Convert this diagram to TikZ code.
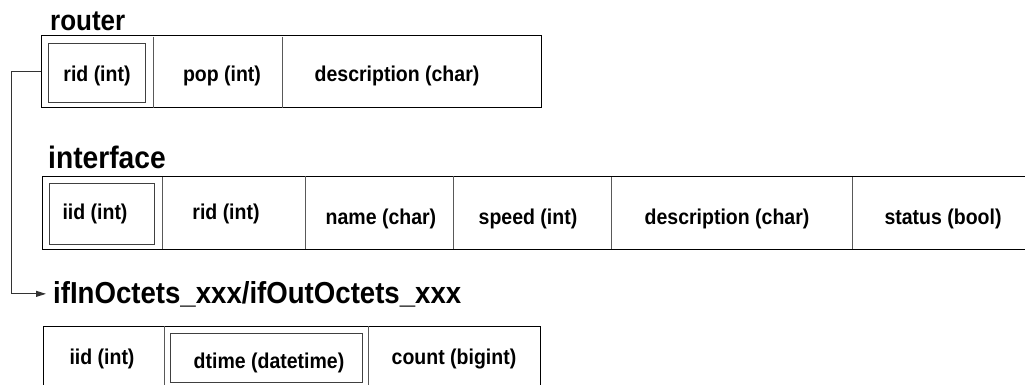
\documentclass[tikz,border=0pt]{standalone}
\usepackage{fontspec}
\usepackage{graphicx}
\setmainfont{Liberation Sans}
\usetikzlibrary{arrows.meta}
\newcommand{\tallt}[1]{\scalebox{1}[1.1]{#1}}
\tikzset{
  tbl/.style={draw=black, line width=1pt, rectangle, inner sep=0pt},
  keybox/.style={draw=black!75, line width=1pt, rectangle, inner sep=0pt},
  divider/.style={draw=black!65, line width=1pt},
  ttl/.style={anchor=base west, inner sep=0pt, font=\bfseries},
  fld/.style={anchor=base, inner sep=0pt, font=\fontsize{19.5}{20}\selectfont\bfseries},
  conn/.style={draw=black!80, line width=1pt, -{Triangle[length=10pt,width=6pt]}}
}
\begin{document}
\begin{tikzpicture}[x=1pt,y=-1pt]
\useasboundingbox (0,0) rectangle (1025,385);
% router
\node[ttl] (rtitle) at (50,31) {\fontsize{26}{27}\selectfont\tallt{router}};
\node[tbl, minimum width=500pt, minimum height=72pt] (rtab) at (291,72) {};
\node[keybox, minimum width=97pt, minimum height=59pt] (rkey) at (96.5,73.5) {};
\draw[divider] (153,37) -- (153,108);
\draw[divider] (282,37) -- (282,108);
\node[fld] (r1) at (97,82) {\tallt{rid (int)}};
\node[fld] (r2) at (222,82) {\tallt{pop (int)}};
\node[fld] (r3) at (397,82) {\tallt{description (char)}};
% interface
\node[ttl] (ititle) at (48,168) {\fontsize{28.2}{29}\selectfont\tallt{interface}};
\node[tbl, minimum width=995pt, minimum height=73pt] (itab) at (539.5,212.5) {};
\node[keybox, minimum width=105pt, minimum height=61pt] (ikey) at (101.5,213.5) {};
\draw[divider] (162,177) -- (162,249);
\draw[divider] (305,176) -- (305,249);
\draw[divider] (453,176) -- (453,249);
\draw[divider] (611,177) -- (611,249);
\draw[divider] (852,177) -- (852,249);
\node[fld] (i1) at (95,219) {\tallt{iid (int)}};
\node[fld] (i2) at (226,219) {\tallt{rid (int)}};
\node[fld] (i3) at (381,224) {\tallt{name (char)}};
\node[fld] (i4) at (528,224) {\tallt{speed (int)}};
\node[fld] (i5) at (727,224) {\tallt{description (char)}};
\node[fld] (i6) at (943,224) {\tallt{status (bool)}};
% octets
\node[ttl] (otitle) at (53,303) {\fontsize{27.6}{28}\selectfont\tallt{ifInOctets\_xxx/ifOutOctets\_xxx}};
\node[tbl, minimum width=497pt, minimum height=80pt] (otab) at (291.5,366) {};
\node[keybox, minimum width=192pt, minimum height=49pt] (okey) at (266,357.5) {};
\draw[divider] (164,326) -- (164,390);
\draw[divider] (368,326) -- (368,390);
\node[fld] (o1) at (102,364) {\tallt{iid (int)}};
\node[fld] (o2) at (269,368) {\tallt{dtime (datetime)}};
\node[fld] (o3) at (454,364) {\tallt{count (bigint)}};
% connector
\draw[conn, shorten >=7pt] (rtab.west) -- ++(-29pt,0) |- (otitle.west);
\end{tikzpicture}
\end{document}
